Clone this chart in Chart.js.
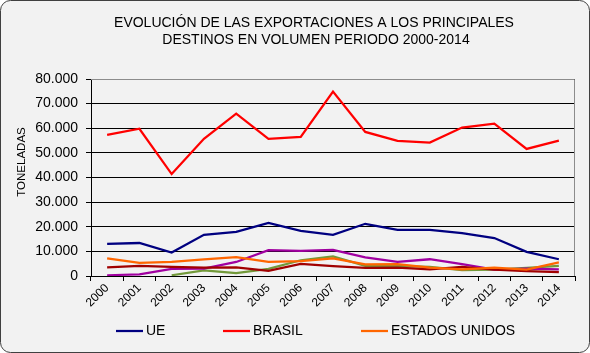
<!DOCTYPE html>
<html lang="es">
<head>
  <meta charset="UTF-8">
  <title>Evolución de las exportaciones</title>
  <script src="https://cdn.jsdelivr.net/npm/chart.js"></script>
  <style>
    html, body {
      margin: 0;
      padding: 0;
      background: #ffffff;
    }
    #wrap {
      width: 590px;
      height: 353px;
    }
  </style>
</head>
<body>
  <div id="wrap"><canvas id="expChart" width="590" height="353"></canvas></div>

  <script>
    // años (eje X)
    const years = ['2000','2001','2002','2003','2004','2005','2006','2007','2008','2009','2010','2011','2012','2013','2014'];

    // toneladas por destino
    const ue      = [13000, 13400, 9500, 16700, 17900, 21600, 18300, 16700, 21200, 18700, 18700, 17400, 15400, 9800, 6800];
    const brasil  = [57300, 59800, 41400, 55700, 65900, 55700, 56500, 74900, 58500, 54900, 54200, 60300, 61900, 51600, 55000];
    const eeuu    = [7200, 5300, 5700, 6800, 7700, 5700, 6000, 7200, 4700, 4800, 3400, 2700, 3400, 2600, 5500];
    const destino4 = [3500, 4100, 3700, 3400, 3500, 2100, 4900, 4000, 3300, 3400, 2700, 3700, 2600, 2000, 1600];
    const destino5 = [300, 700, 2900, 3000, 5700, 10500, 10200, 10600, 7600, 5700, 6800, 4800, 2600, 3000, 2700];
    const destino6 = [null, null, 300, 2300, 1200, 2900, 6400, 8000, 4100, 4100, 3700, 2400, 2600, 3300, 4100];

    const yTicks = { min: 0, max: 80000, step: 10000 };
    const titleLines = ['EVOLUCIÓN DE LAS EXPORTACIONES A LOS PRINCIPALES', 'DESTINOS EN VOLUMEN PERIODO 2000-2014'];
    const yTitle = 'TONELADAS';
    const legendShown = 3; // solo las tres primeras series aparecen en la leyenda

    const FONT = '"Liberation Sans", Arial, sans-serif';

    function fmt(v) {
      return String(v).replace(/\B(?=(\d{3})+(?!\d))/g, '.');
    }

    function line(label, data, color) {
      return {
        label: label,
        data: data,
        borderColor: color,
        backgroundColor: color,
        borderWidth: 2.25,
        pointRadius: 0,
        pointHoverRadius: 0,
        tension: 0,
        fill: false
      };
    }

    // fondo, marco, título, título del eje y leyenda
    const decor = {
      id: 'decor',
      beforeDraw(chart) {
        const ctx = chart.ctx;
        ctx.save();
        ctx.beginPath();
        ctx.roundRect(0.5, 0.5, chart.width - 1, chart.height - 1, 10);
        ctx.fillStyle = '#f2f2f2';
        ctx.fill();
        ctx.strokeStyle = '#404040';
        ctx.lineWidth = 1;
        ctx.stroke();
        ctx.restore();
      },
      beforeDatasetsDraw(chart) {
        const a = chart.chartArea;
        const ctx = chart.ctx;
        ctx.save();
        ctx.strokeStyle = '#8c8c8c';
        ctx.lineWidth = 1;
        ctx.beginPath();
        ctx.moveTo(a.left, Math.round(a.top) + 0.5);
        ctx.lineTo(Math.round(a.right) - 0.5, Math.round(a.top) + 0.5);
        ctx.lineTo(Math.round(a.right) - 0.5, a.bottom);
        ctx.stroke();
        ctx.restore();
      },
      afterDraw(chart) {
        const ctx = chart.ctx;
        ctx.save();
        ctx.fillStyle = '#000';
        ctx.font = '14px ' + FONT;
        ctx.textAlign = 'center';
        ctx.textBaseline = 'middle';
        ctx.fillText(titleLines[0], 314, 23);
        ctx.fillText(titleLines[1], 316, 40);

        ctx.save();
        ctx.font = '11.5px ' + FONT;
        ctx.translate(22, 162);
        ctx.rotate(-Math.PI / 2);
        ctx.fillText(yTitle, 0, 0);
        ctx.restore();

        const xs = [116, 223, 361];
        ctx.font = '14px ' + FONT;
        ctx.textAlign = 'left';
        chart.data.datasets.slice(0, legendShown).forEach((ds, i) => {
          ctx.strokeStyle = ds.borderColor;
          ctx.lineWidth = 2.25;
          ctx.beginPath();
          ctx.moveTo(xs[i], 331);
          ctx.lineTo(xs[i] + 27, 331);
          ctx.stroke();
          ctx.fillText(ds.label, xs[i] + 30, 331);
        });
        ctx.restore();
      }
    };

    new Chart(document.getElementById('expChart'), {
      type: 'line',
      data: {
        labels: years,
        datasets: [
          line('UE', ue, '#000080'),
          line('BRASIL', brasil, '#ff0000'),
          line('ESTADOS UNIDOS', eeuu, '#ff6600'),
          line('DESTINO 4', destino4, '#a00000'),
          line('DESTINO 5', destino5, '#a000a0'),
          line('DESTINO 6', destino6, '#72993a')
        ]
      },
      options: {
        responsive: false,
        animation: false,
        layout: { padding: { left: 0, right: 15, top: 79, bottom: 0 } },
        plugins: {
          legend: { display: false },
          title: { display: false },
          tooltip: { enabled: false }
        },
        scales: {
          x: {
            offset: true,
            grid: {
              offset: true,
              drawOnChartArea: false,
              drawTicks: true,
              tickLength: 5,
              color: '#000'
            },
            border: { color: '#000' },
            ticks: {
              autoSkip: false,
              minRotation: 45,
              maxRotation: 45,
              color: '#000',
              padding: 0,
              font: { family: FONT, size: 12 }
            },
            afterFit(scale) { scale.height = 77; }
          },
          y: {
            min: yTicks.min,
            max: yTicks.max,
            grid: { color: '#000', tickLength: 5 },
            border: { color: '#000' },
            ticks: {
              stepSize: yTicks.step,
              color: '#000',
              padding: 8,
              font: { family: FONT, size: 14 },
              callback: v => fmt(v)
            },
            afterFit(scale) { scale.width = 91; }
          }
        }
      },
      plugins: [decor]
    });
  </script>
</body>
</html>
